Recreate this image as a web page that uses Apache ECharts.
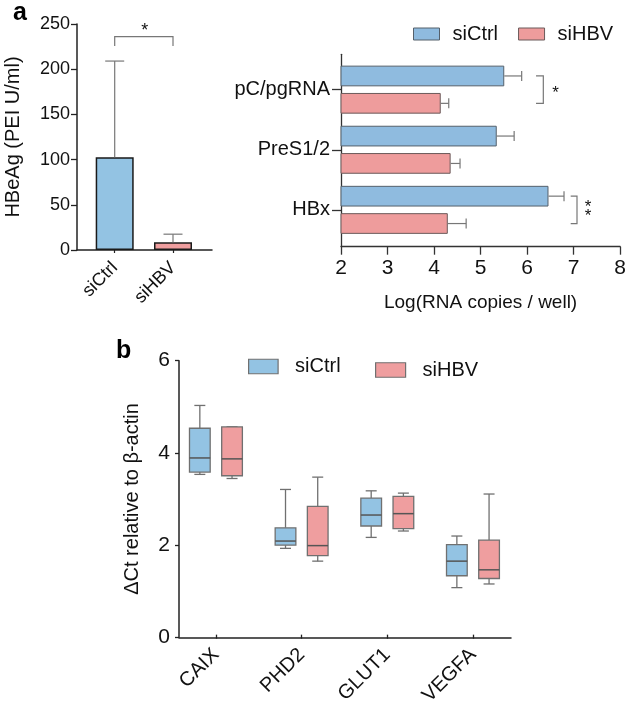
<!DOCTYPE html>
<html><head><meta charset="utf-8">
<script src="https://cdn.jsdelivr.net/npm/echarts/dist/echarts.min.js"></script>
<style>html,body{margin:0;padding:0;background:#fff}#c{width:629px;height:708px}</style>
</head><body><div id="c"></div>
<script>
// ---------- data ----------
const hbeagCats = ['siCtrl', 'siHBV'];
const hbeagMean = [102.5, 8.5];
const hbeagErr = [209, 17.5];

const rnaCats = ['pC/pgRNA', 'PreS1/2', 'HBx'];
const rnaCtrlMean = [5.47, 5.31, 6.41];
const rnaCtrlErr = [5.84, 5.68, 6.74];
const rnaHbvMean = [4.12, 4.33, 4.27];
const rnaHbvErr = [4.29, 4.53, 4.66];

const geneCats = ['CAIX', 'PHD2', 'GLUT1', 'VEGFA'];
// [min, Q1, median, Q3, max]
const boxCtrl = [[3.51, 3.56, 3.87, 4.52, 5.02], [1.89, 1.96, 2.05, 2.34, 3.18], [2.13, 2.38, 2.62, 2.99, 3.15], [1.03, 1.29, 1.61, 1.97, 2.16]];
const boxHbv = [[3.42, 3.48, 3.85, 4.55, 4.55], [1.61, 1.73, 1.95, 2.81, 3.45], [2.27, 2.32, 2.65, 3.03, 3.10], [1.11, 1.23, 1.42, 2.07, 3.08]];

// significance annotations (data units)
const sigLeft = [[0, 1, 225.7, 236, '*']];             // cat a, cat b, foot, top, text
const sigRight = [[0, 6.145, 6.30, 6.56, '*'], [2, 6.882, 7.016, 7.25, '*\n*']]; // cat, end, line, textX, text

// ---------- style ----------
const FONT = 'Liberation Sans, Arial, Helvetica, sans-serif';
const TXT = '#111';
const BLUE = '#93c3e3', RED = '#ef9e9f';
const BLUE2 = '#8fbbdf', RED2 = '#ee9c9c';
const AX = { lineStyle: { color: '#222', width: 1.5 } };
const ERR = '#777';
const BAR_OFF = 13.7;

function hidden(extra) { return Object.assign({ show: false, splitLine: { show: false } }, extra); }
function lineOnly(extra) {
  return Object.assign({ type: 'value', min: 0, max: 1, axisLine: { show: true, onZero: false, lineStyle: AX.lineStyle },
    axisTick: { show: false }, axisLabel: { show: false }, splitLine: { show: false } }, extra);
}

function vErr(params, api) {
  const c = api.value(0);
  const p0 = api.coord([c, api.value(1)]), p1 = api.coord([c, api.value(2)]);
  const s = { stroke: ERR, lineWidth: 1.2 };
  return { type: 'group', children: [
    { type: 'line', shape: { x1: p0[0], y1: p0[1], x2: p1[0], y2: p1[1] }, style: s },
    { type: 'line', shape: { x1: p1[0] - 9.5, y1: p1[1], x2: p1[0] + 9.5, y2: p1[1] }, style: s }
  ] };
}
function hErr(off) {
  return function (params, api) {
    const c = api.value(0);
    const p0 = api.coord([api.value(1), c]), p1 = api.coord([api.value(2), c]);
    const y = p0[1] + off;
    const s = { stroke: ERR, lineWidth: 1.2 };
    return { type: 'group', children: [
      { type: 'line', shape: { x1: p0[0], y1: y, x2: p1[0], y2: y }, style: s },
      { type: 'line', shape: { x1: p1[0], y1: y - 5, x2: p1[0], y2: y + 5 }, style: s }
    ] };
  };
}
function bracketLeft(params, api) {
  const a = api.value(0), b = api.value(1), foot = api.value(2), top = api.value(3);
  const pa = api.coord([a, foot]), pat = api.coord([a, top]), pb = api.coord([b, top]), pbf = api.coord([b, foot]);
  return { type: 'group', children: [
    { type: 'polyline', shape: { points: [pa, pat, pb, pbf] }, style: { stroke: ERR, lineWidth: 1.2, fill: null } },
    { type: 'text', style: { text: sigLeft[params.dataIndex][4], x: (pa[0] + pb[0]) / 2 + 1, y: pat[1] - 6, align: 'center', verticalAlign: 'middle', font: '18px ' + FONT, fill: TXT } }
  ] };
}
function bracketRight(params, api) {
  const c = api.value(0), e = api.value(1), l = api.value(2), tx = api.value(3);
  const pe = api.coord([e, c]), pl = api.coord([l, c]), pt = api.coord([tx, c]);
  const y1 = pe[1] - BAR_OFF, y2 = pe[1] + BAR_OFF;
  const txt = sigRight[params.dataIndex][4];
  const dy = txt.indexOf('\n') >= 0 ? 2 : 4;
  return { type: 'group', children: [
    { type: 'polyline', shape: { points: [[pe[0], y1], [pl[0], y1], [pl[0], y2], [pe[0], y2]] }, style: { stroke: ERR, lineWidth: 1.2, fill: null } },
    { type: 'text', style: { text: txt, x: pt[0], y: pt[1] + dy, align: 'center', verticalAlign: 'middle', font: '17px ' + FONT, fill: TXT, lineHeight: 9.5 } }
  ] };
}
function boxRender(off, fill) {
  return function (params, api) {
    const c = api.value(0);
    const v = [1, 2, 3, 4, 5].map(i => api.value(i));
    const cx = api.coord([c, v[2]])[0] + off;
    const Y = v.map(d => api.coord([c, d])[1]);
    const hw = 10.35, cw = 5.5;
    const ls = { stroke: '#707070', lineWidth: 1.3 };
    return { type: 'group', children: [
      { type: 'line', shape: { x1: cx, y1: Y[3], x2: cx, y2: Y[4] }, style: ls },
      { type: 'line', shape: { x1: cx - cw, y1: Y[4], x2: cx + cw, y2: Y[4] }, style: ls },
      { type: 'line', shape: { x1: cx, y1: Y[1], x2: cx, y2: Y[0] }, style: ls },
      { type: 'line', shape: { x1: cx - cw, y1: Y[0], x2: cx + cw, y2: Y[0] }, style: ls },
      { type: 'rect', shape: { x: cx - hw, y: Y[3], width: 2 * hw, height: Y[1] - Y[3] }, style: { fill: fill, stroke: '#707070', lineWidth: 1.3 } },
      { type: 'line', shape: { x1: cx - hw, y1: Y[2], x2: cx + hw, y2: Y[2] }, style: { stroke: '#555', lineWidth: 1.5 } }
    ] };
  };
}

const chart = echarts.init(document.getElementById('c'), null, { renderer: 'canvas' });
const option = {
  backgroundColor: '#fff',
  animation: false,
  textStyle: { fontFamily: FONT, color: TXT },
  graphic: [
    { type: 'text', left: 13, top: 1, style: { text: 'a', font: 'bold 25px ' + FONT, fill: '#000' } },
    { type: 'text', left: 116, top: 339, style: { text: 'b', font: 'bold 25px ' + FONT, fill: '#000' } }
  ],
  legend: [
    { data: [{ name: 'siCtrl', itemStyle: { color: BLUE2, borderColor: '#55606b', borderWidth: 1 } },
             { name: 'siHBV', itemStyle: { color: RED2, borderColor: '#6b5a5a', borderWidth: 1 } }],
      left: 413, top: 24, padding: 0, icon: 'rect', itemWidth: 26, itemHeight: 12, itemGap: 20, selectedMode: false,
      textStyle: { fontSize: 20, color: TXT, fontFamily: FONT, padding: [0, 0, 0, 8] } },
    { data: [{ name: 'siCtrl', itemStyle: { color: BLUE, borderColor: '#707070', borderWidth: 1.2 } }],
      left: 248, top: 356.5, padding: 0, icon: 'rect', itemWidth: 29.5, itemHeight: 14.5, selectedMode: false,
      textStyle: { fontSize: 20, color: TXT, fontFamily: FONT, padding: [0, 0, 0, 12] } },
    { data: [{ name: 'siHBV', itemStyle: { color: RED, borderColor: '#707070', borderWidth: 1.2 } }],
      left: 375, top: 360, padding: 0, icon: 'rect', itemWidth: 30, itemHeight: 14.5, selectedMode: false,
      textStyle: { fontSize: 20, color: TXT, fontFamily: FONT, padding: [0, 0, 0, 12] } }
  ],
  grid: [
    { left: 77, top: 24, width: 135, height: 226 },
    { left: 85.55, top: 24, width: 116.6, height: 226 },
    { left: 341, top: 54.3, width: 282.3, height: 192.4 },
    { left: 341, top: 59.6, width: 282.3, height: 180.3 },
    { left: 179, top: 360.7, width: 332, height: 276.6 },
    { left: 173.1, top: 360.7, width: 342.7, height: 276.6 }
  ],
  xAxis: [
    lineOnly({ gridIndex: 0 }),
    { gridIndex: 1, type: 'category', data: hbeagCats, axisLine: { show: false },
      axisTick: { show: true, alignWithLabel: true, length: 3, lineStyle: { color: '#222', width: 1.2 } },
      axisLabel: { rotate: 45, fontSize: 18, color: TXT, margin: 15, fontFamily: FONT } },
    { gridIndex: 2, type: 'value', min: 2, max: 8, interval: 1,
      axisLine: { show: true, onZero: false, lineStyle: { color: '#333', width: 1.3 } },
      axisTick: { show: true, length: 8, lineStyle: { color: '#333', width: 1.3 } },
      axisLabel: { fontSize: 21, color: TXT, margin: 11, fontFamily: FONT },
      splitLine: { show: false },
      name: 'Log(RNA copies / well)', nameLocation: 'middle', nameGap: 47,
      nameTextStyle: { fontSize: 19, color: TXT, fontFamily: FONT } },
    hidden({ gridIndex: 3, type: 'value', min: 2, max: 8 }),
    lineOnly({ gridIndex: 4 }),
    { gridIndex: 5, type: 'category', data: geneCats, axisLine: { show: false },
      axisTick: { show: true, alignWithLabel: true, length: 4, lineStyle: { color: '#222', width: 1.3 } },
      axisLabel: { rotate: 45, fontSize: 20, color: TXT, margin: 17, fontFamily: FONT } }
  ],
  yAxis: [
    { gridIndex: 0, type: 'value', min: 0, max: 250, interval: 50,
      axisLine: { show: true, onZero: false, lineStyle: AX.lineStyle },
      axisTick: { show: true, length: 6, lineStyle: { color: '#222', width: 1.3 } },
      axisLabel: { fontSize: 18, color: TXT, margin: 7, fontFamily: FONT },
      splitLine: { show: false },
      name: 'HBeAg (PEI U/ml)', nameLocation: 'middle', nameGap: 54,
      nameTextStyle: { fontSize: 20, color: TXT, fontFamily: FONT } },
    hidden({ gridIndex: 1, type: 'value', min: 0, max: 250 }),
    lineOnly({ gridIndex: 2, axisLine: { show: true, onZero: false, lineStyle: { color: '#333', width: 1.3 } } }),
    { gridIndex: 3, type: 'category', data: rnaCats, inverse: true, axisLine: { show: false },
      axisTick: { show: true, alignWithLabel: true, length: 9, lineStyle: { color: '#333', width: 1.3 } },
      axisLabel: { fontSize: 20, color: TXT, margin: 11, fontFamily: FONT } },
    { gridIndex: 4, type: 'value', min: 0, max: 6, interval: 2,
      axisLine: { show: true, onZero: false, lineStyle: AX.lineStyle },
      axisTick: { show: true, length: 4, lineStyle: { color: '#222', width: 1.3 } },
      axisLabel: { fontSize: 21, color: TXT, margin: 9, fontFamily: FONT },
      splitLine: { show: false },
      name: 'ΔCt relative to β-actin', nameLocation: 'middle', nameGap: 37,
      nameTextStyle: { fontSize: 20, color: TXT, fontFamily: FONT } },
    hidden({ gridIndex: 5, type: 'value', min: 0, max: 6 })
  ],
  series: [
    { type: 'bar', name: 'HBeAg', xAxisIndex: 1, yAxisIndex: 1, barWidth: 38, z: 2,
      data: hbeagMean.map((v, i) => ({ value: v, itemStyle: { color: i === 0 ? BLUE : RED } })),
      itemStyle: { borderColor: '#1a1a1a', borderWidth: 1.5 } },
    { type: 'custom', name: 'HBeAg err', xAxisIndex: 1, yAxisIndex: 1, z: 3, renderItem: vErr,
      encode: { x: 0, y: [1, 2] }, data: hbeagCats.map((c, i) => [i, hbeagMean[i], hbeagErr[i]]) },
    { type: 'custom', name: 'sigL', xAxisIndex: 1, yAxisIndex: 1, z: 3, renderItem: bracketLeft,
      encode: { x: [0, 1], y: [2, 3] }, data: sigLeft.map(d => d.slice(0, 4)) },
    { type: 'bar', name: 'siCtrl', xAxisIndex: 3, yAxisIndex: 3, barWidth: 20.7, barGap: '32%', z: 2,
      data: rnaCtrlMean, itemStyle: { color: BLUE2, borderColor: '#55606b', borderWidth: 1 } },
    { type: 'bar', name: 'siHBV', xAxisIndex: 3, yAxisIndex: 3, barWidth: 20.7, barGap: '32%', z: 2,
      data: rnaHbvMean, itemStyle: { color: RED2, borderColor: '#6b5a5a', borderWidth: 1 } },
    { type: 'custom', name: 'errC', xAxisIndex: 3, yAxisIndex: 3, z: 3, renderItem: hErr(-BAR_OFF),
      encode: { x: [1, 2], y: 0 }, data: rnaCats.map((c, i) => [i, rnaCtrlMean[i], rnaCtrlErr[i]]) },
    { type: 'custom', name: 'errH', xAxisIndex: 3, yAxisIndex: 3, z: 3, renderItem: hErr(BAR_OFF),
      encode: { x: [1, 2], y: 0 }, data: rnaCats.map((c, i) => [i, rnaHbvMean[i], rnaHbvErr[i]]) },
    { type: 'custom', name: 'sigR', xAxisIndex: 3, yAxisIndex: 3, z: 3, renderItem: bracketRight,
      encode: { x: [1, 2, 3], y: 0 }, data: sigRight.map(d => d.slice(0, 4)) },
    { type: 'custom', name: 'siCtrl', xAxisIndex: 5, yAxisIndex: 5, z: 3, renderItem: boxRender(-16.1, BLUE),
      itemStyle: { color: BLUE }, encode: { x: 0, y: [1, 2, 3, 4, 5] }, data: geneCats.map((c, i) => [i].concat(boxCtrl[i])) },
    { type: 'custom', name: 'siHBV', xAxisIndex: 5, yAxisIndex: 5, z: 3, renderItem: boxRender(16.1, RED),
      itemStyle: { color: RED }, encode: { x: 0, y: [1, 2, 3, 4, 5] }, data: geneCats.map((c, i) => [i].concat(boxHbv[i])) }
  ]
};
chart.setOption(option);
</script></body></html>
